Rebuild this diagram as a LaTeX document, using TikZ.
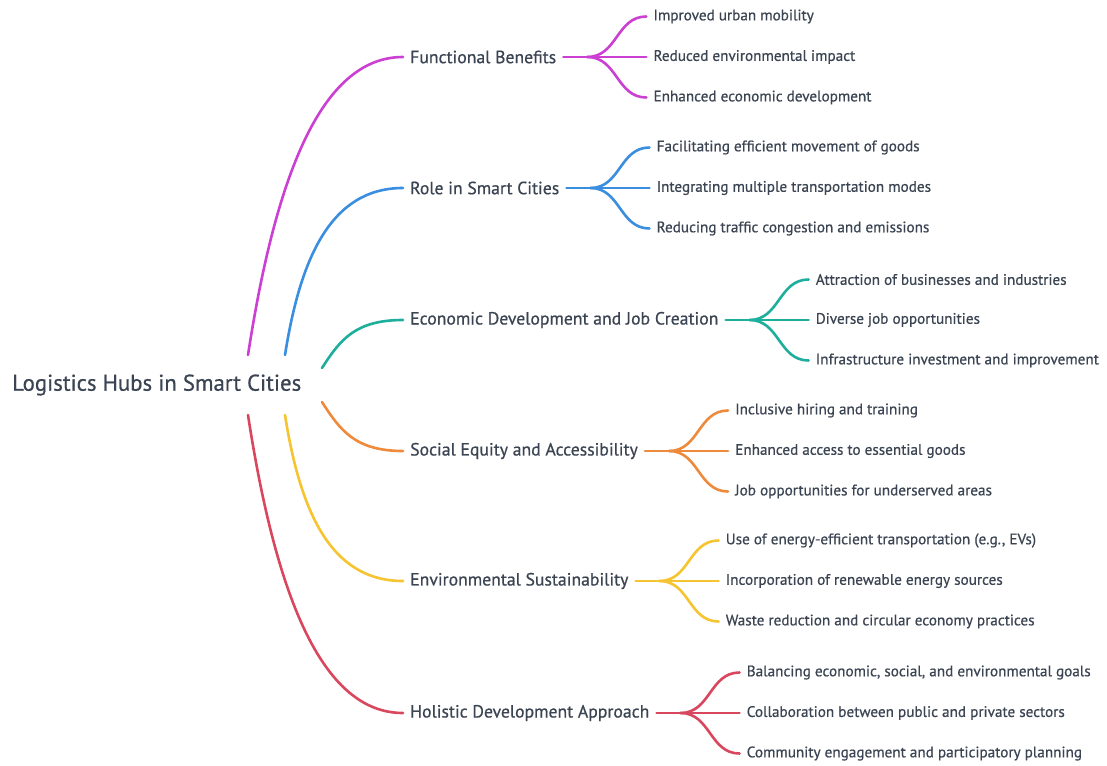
\documentclass[tikz,border=0pt]{standalone}
\usepackage{fontspec}
\setmainfont{PT Sans}[FakeBold=0.6]
\usetikzlibrary{calc}
\definecolor{txt}{HTML}{3B4452}
\definecolor{cmag}{HTML}{CB3FD3}
\definecolor{cblue}{HTML}{3A8EE0}
\definecolor{cteal}{HTML}{1DAE9C}
\definecolor{corange}{HTML}{EE8A3B}
\definecolor{cyellow}{HTML}{F6C430}
\definecolor{cred}{HTML}{D8475E}
\tikzset{
  rootbox/.style={anchor=west,inner sep=0pt,text=txt,font=\fontsize{22.8}{26}\selectfont},
  lone/.style={anchor=west,inner xsep=7pt,inner ysep=2pt,text=txt,font=\fontsize{17.7}{20}\selectfont},
  kid/.style={anchor=west,inner xsep=7pt,inner ysep=2pt,text=txt,font=\fontsize{15.2}{17}\selectfont},
  conn/.style={line width=2.6pt,line cap=round}
}
\newcommand\kids[5]{%
  \node[kid] (#1a) at ($(#1.east)+(83,-40.5)$) {#3};
  \node[kid] (#1b) at ($(#1.east)+(83,0)$) {#4};
  \node[kid] (#1c) at ($(#1.east)+(83,40.5)$) {#5};
  \draw[conn,#2] (#1.east) -- ++(24,0) coordinate (#1j);
  \draw[conn,#2] (#1j) .. controls +(30,0) and +(-30,0) .. (#1a.west);
  \draw[conn,#2] (#1j) -- (#1b.west);
  \draw[conn,#2] (#1j) .. controls +(30,0) and +(-30,0) .. (#1c.west);
}
\begin{document}
\begin{tikzpicture}[x=1pt,y=-1pt]
\fill[white] (0,0) rectangle (1107,765);
\useasboundingbox (0,0) rectangle (1107,765);
\node[rootbox] (root) at (12,385) {Logistics Hubs in Smart Cities};
\coordinate (r1) at (248,355);
\coordinate (r2) at (285,355);
\coordinate (r3) at (322,368);
\coordinate (r4) at (322,402);
\coordinate (r5) at (285,415);
\coordinate (r6) at (248,415);
\node[lone] (b1) at (403,57) {Functional Benefits};
\node[lone] (b2) at (403,188) {Role in Smart Cities};
\node[lone] (b3) at (403,320) {Economic Development and Job Creation};
\node[lone] (b4) at (403,451) {Social Equity and Accessibility};
\node[lone] (b5) at (403,581) {Environmental Sustainability};
\node[lone] (b6) at (403,713) {Holistic Development Approach};
\draw[conn,cmag] (r1) .. controls (275,180) and (320,57) .. (b1.west);
\draw[conn,cblue] (r2) .. controls (300,260) and (330,188) .. (b2.west);
\draw[conn,cteal] (r3) .. controls (340,340) and (355,320) .. (b3.west);
\draw[conn,corange] (r4) .. controls (340,430) and (355,451) .. (b4.west);
\draw[conn,cyellow] (r5) .. controls (300,510) and (330,581) .. (b5.west);
\draw[conn,cred] (r6) .. controls (275,590) and (320,713) .. (b6.west);
\kids{b1}{cmag}{Improved urban mobility}{Reduced environmental impact}{Enhanced economic development}
\kids{b2}{cblue}{Facilitating efficient movement of goods}{Integrating multiple transportation modes}{Reducing traffic congestion and emissions}
\kids{b3}{cteal}{Attraction of businesses and industries}{Diverse job opportunities}{Infrastructure investment and improvement}
\kids{b4}{corange}{Inclusive hiring and training}{Enhanced access to essential goods}{Job opportunities for underserved areas}
\kids{b5}{cyellow}{Use of energy-efficient transportation (e.g., EVs)}{Incorporation of renewable energy sources}{Waste reduction and circular economy practices}
\kids{b6}{cred}{Balancing economic, social, and environmental goals}{Collaboration between public and private sectors}{Community engagement and participatory planning}
\end{tikzpicture}
\end{document}
